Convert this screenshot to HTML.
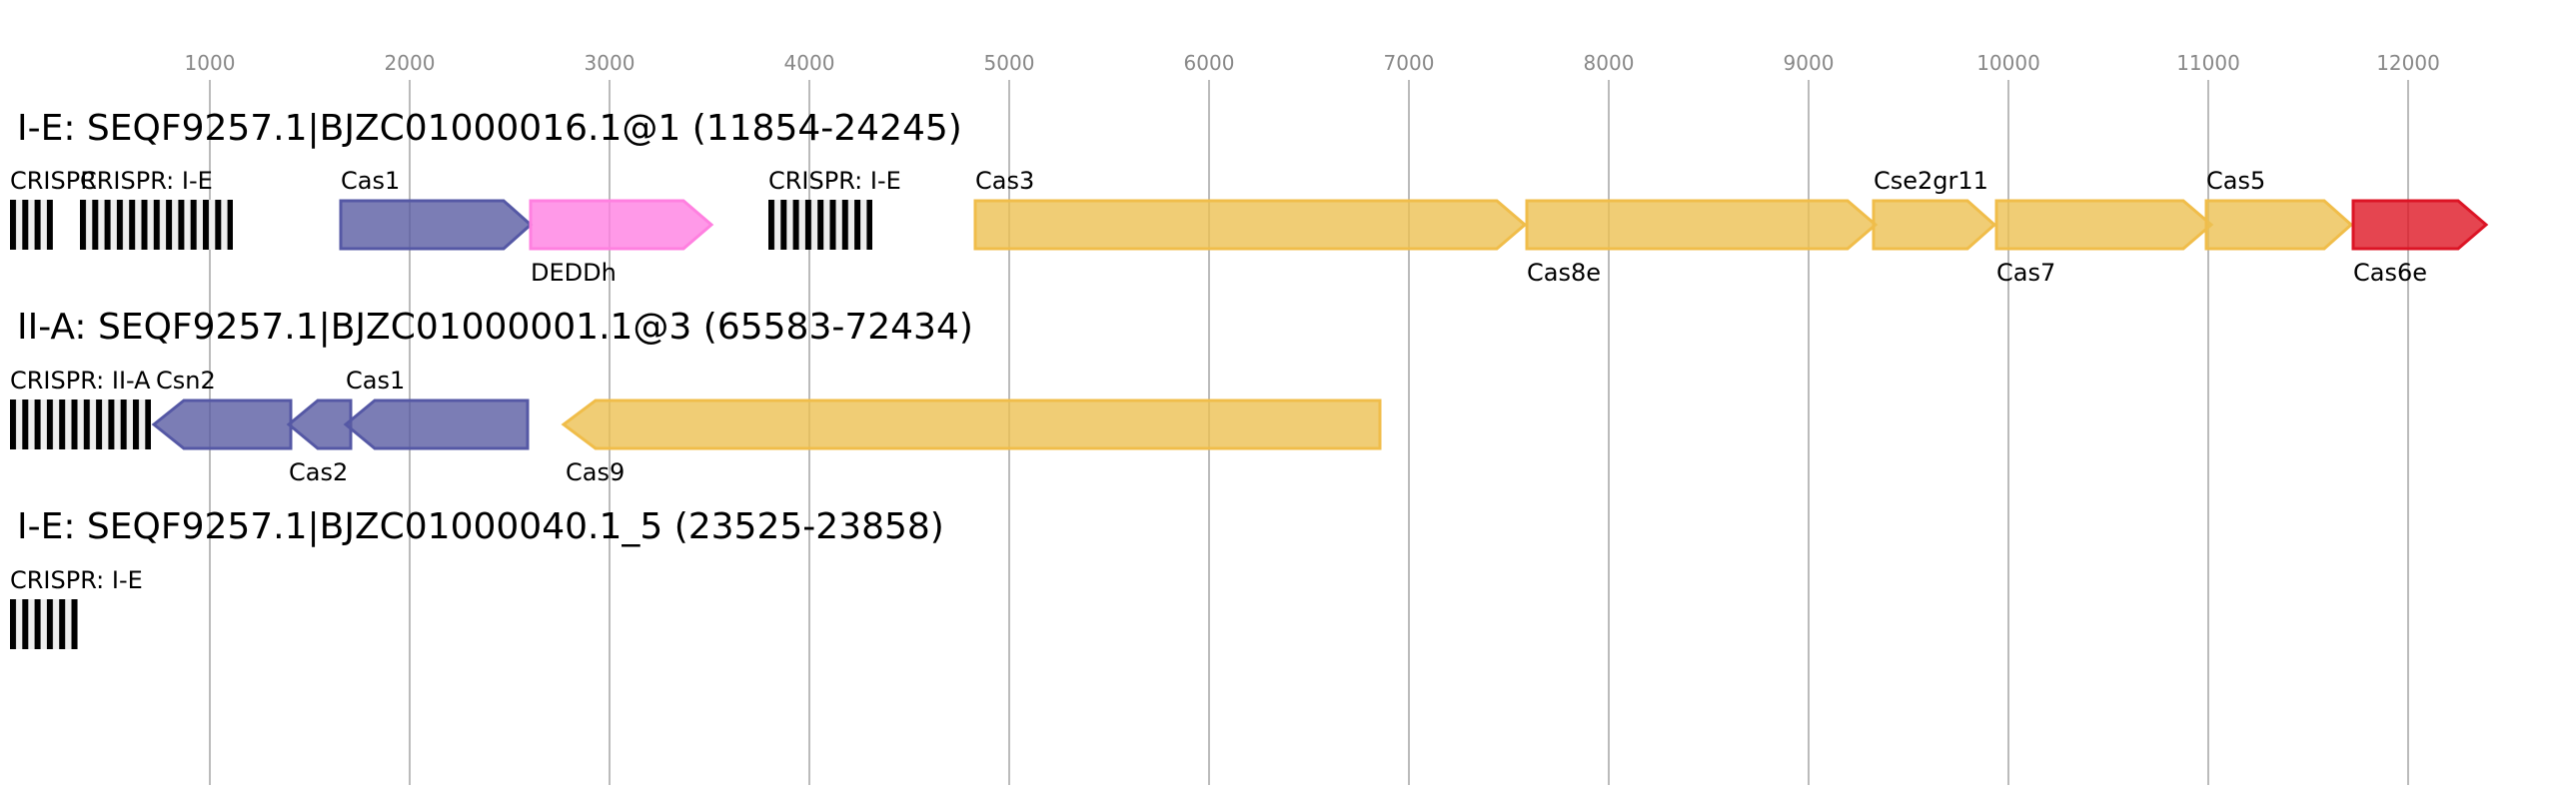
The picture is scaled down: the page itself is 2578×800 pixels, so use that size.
<!DOCTYPE html>
<html><head><meta charset="utf-8"><style>
html,body{margin:0;padding:0;background:#fff;}
svg{display:block;}
text{font-family:"DejaVu Sans","Liberation Sans",sans-serif;}
</style></head><body>
<svg width="2578" height="800" viewBox="0 0 2578 800" xmlns="http://www.w3.org/2000/svg">
<g stroke="#bbb" stroke-width="2">
<line x1="210" y1="80" x2="210" y2="786"/><line x1="410" y1="80" x2="410" y2="786"/>
<line x1="610" y1="80" x2="610" y2="786"/><line x1="810" y1="80" x2="810" y2="786"/>
<line x1="1010" y1="80" x2="1010" y2="786"/><line x1="1210" y1="80" x2="1210" y2="786"/>
<line x1="1410" y1="80" x2="1410" y2="786"/><line x1="1610" y1="80" x2="1610" y2="786"/>
<line x1="1810" y1="80" x2="1810" y2="786"/><line x1="2010" y1="80" x2="2010" y2="786"/>
<line x1="2210" y1="80" x2="2210" y2="786"/><line x1="2410" y1="80" x2="2410" y2="786"/>
</g>
<g fill="#888" font-size="20" text-anchor="middle">
<text x="210" y="70">1000</text><text x="410" y="70">2000</text><text x="610" y="70">3000</text>
<text x="810" y="70">4000</text><text x="1010" y="70">5000</text><text x="1210" y="70">6000</text>
<text x="1410" y="70">7000</text><text x="1610" y="70">8000</text><text x="1810" y="70">9000</text>
<text x="2010" y="70">10000</text><text x="2210" y="70">11000</text><text x="2410" y="70">12000</text>
</g>
<g font-size="36" fill="#000">
<text x="17" y="140">I-E: SEQF9257.1|BJZC01000016.1@1 (11854-24245)</text>
<text x="17" y="339">II-A: SEQF9257.1|BJZC01000001.1@3 (65583-72434)</text>
<text x="17" y="539">I-E: SEQF9257.1|BJZC01000040.1_5 (23525-23858)</text>
</g>
<defs>
<pattern id="cr" x="10" y="0" width="12.3" height="10" patternUnits="userSpaceOnUse">
<rect width="12.3" height="10" fill="#eee"/><rect width="6" height="10" fill="#000"/>
</pattern>
<pattern id="cr2" x="80" y="0" width="12.3" height="10" patternUnits="userSpaceOnUse">
<rect width="12.3" height="10" fill="#eee"/><rect width="6" height="10" fill="#000"/>
</pattern>
<pattern id="cr3" x="769" y="0" width="12.3" height="10" patternUnits="userSpaceOnUse">
<rect width="12.3" height="10" fill="#eee"/><rect width="6" height="10" fill="#000"/>
</pattern>
</defs>
<rect x="10" y="200" width="43" height="50" fill="url(#cr)"/>
<rect x="80" y="200" width="153" height="50" fill="url(#cr2)"/>
<rect x="769" y="200" width="104" height="50" fill="url(#cr3)"/>
<rect x="10" y="400" width="141" height="50" fill="url(#cr)"/>
<rect x="10" y="600" width="68" height="50" fill="url(#cr)"/>
<g stroke-width="3">
<path d="M341,201 H504 L531,225 L504,249 H341 Z" fill="#5a5ca2" fill-opacity="0.8" stroke="#5558a5"/>
<path d="M531,201 H684 L712,225 L684,249 H531 Z" fill="#ff7fe2" fill-opacity="0.8" stroke="#ff80e0"/>
<path d="M976,201 H1498 L1526,225 L1498,249 H976 Z" fill="#ecc052" fill-opacity="0.8" stroke="#f0bd4a"/>
<path d="M1528,201 H1849 L1877,225 L1849,249 H1528 Z" fill="#ecc052" fill-opacity="0.8" stroke="#f0bd4a"/>
<path d="M1875,201 H1969 L1996,225 L1969,249 H1875 Z" fill="#ecc052" fill-opacity="0.8" stroke="#f0bd4a"/>
<path d="M1998,201 H2185 L2213,225 L2185,249 H1998 Z" fill="#ecc052" fill-opacity="0.8" stroke="#f0bd4a"/>
<path d="M2208,201 H2326 L2353,225 L2326,249 H2208 Z" fill="#ecc052" fill-opacity="0.8" stroke="#f0bd4a"/>
<path d="M2355,201 H2460 L2488,225 L2460,249 H2355 Z" fill="#de1624" fill-opacity="0.8" stroke="#dc1425"/>
<path d="M291,401 H184 L154,425 L184,449 H291 Z" fill="#5a5ca2" fill-opacity="0.8" stroke="#5558a5"/>
<path d="M351,401 H318 L289,425 L318,449 H351 Z" fill="#5a5ca2" fill-opacity="0.8" stroke="#5558a5"/>
<path d="M528,401 H375 L346,425 L375,449 H528 Z" fill="#5a5ca2" fill-opacity="0.8" stroke="#5558a5"/>
<path d="M1381,401 H596 L564,425 L596,449 H1381 Z" fill="#ecc052" fill-opacity="0.8" stroke="#f0bd4a"/>
</g>
<g font-size="24" fill="#000">
<text x="10" y="189">CRISPR</text>
<text x="80" y="189">CRISPR: I-E</text>
<text x="341" y="189">Cas1</text>
<text x="531" y="281">DEDDh</text>
<text x="769" y="189">CRISPR: I-E</text>
<text x="976" y="189">Cas3</text>
<text x="1528" y="281">Cas8e</text>
<text x="1875" y="189">Cse2gr11</text>
<text x="1998" y="281">Cas7</text>
<text x="2208" y="189">Cas5</text>
<text x="2355" y="281">Cas6e</text>
<text x="10" y="389">CRISPR: II-A</text>
<text x="156" y="389">Csn2</text>
<text x="289" y="481">Cas2</text>
<text x="346" y="389">Cas1</text>
<text x="566" y="481">Cas9</text>
<text x="10" y="589">CRISPR: I-E</text>
</g>
</svg>
</body></html>
